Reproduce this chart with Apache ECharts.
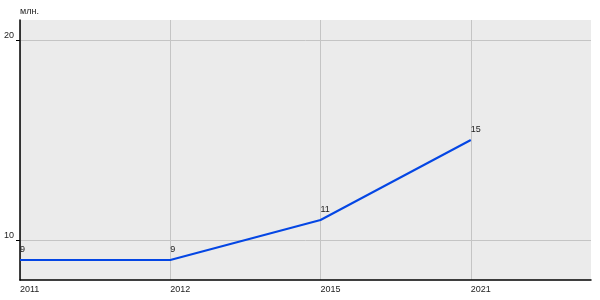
<!DOCTYPE html>
<html><head><meta charset="utf-8">
<script src="https://cdn.jsdelivr.net/npm/echarts@6/dist/echarts.min.js"></script>
<style>html,body{margin:0;padding:0;background:#fff}#c{width:600px;height:300px}</style>
</head><body><div id="c"></div>
<script>
const categories = ['2011', '2012', '2015', '2021'];
const values = [9, 9, 11, 15];
const yTicks = [10, 20];
const unitLabel = 'млн.';

const chart = echarts.init(document.getElementById('c'), null, {renderer: 'canvas'});
const font = 'Liberation Sans, Arial, sans-serif';
const xTicks = categories.map((c, i) => i);
chart.setOption({
  animation: false,
  title: {text: unitLabel, left: 20, top: 7, padding: 0, textStyle: {fontSize: 9, fontWeight: 'normal', color: '#222', fontFamily: font}},
  grid: {left: 20, right: 9, top: 20, bottom: 20, show: true, backgroundColor: '#ebebeb', borderWidth: 0},
  xAxis: {
    type: 'value', min: 0, max: 3.8,
    axisLine: {show: true, lineStyle: {color: '#000', width: 1.5}},
    axisTick: {show: false, customValues: xTicks},
    splitLine: {show: true, lineStyle: {color: '#c4c4c4', width: 1}},
    axisLabel: {
      customValues: xTicks,
      formatter: v => categories[v] !== undefined ? categories[v] : '',
      align: 'left', margin: 5, fontSize: 9, color: '#222', fontFamily: font
    }
  },
  yAxis: {
    type: 'value', min: 8, max: 21,
    axisLine: {show: true, onZero: false, lineStyle: {color: '#000', width: 1.5}},
    axisTick: {show: true, length: 4, customValues: yTicks, lineStyle: {color: '#000'}},
    splitLine: {show: true, lineStyle: {color: '#c4c4c4', width: 1}},
    axisLabel: {customValues: yTicks, margin: 6, fontSize: 9, color: '#222', fontFamily: font, verticalAlign: 'bottom'}
  },
  series: [{
    type: 'line',
    data: values.map((v, i) => [i, v]),
    symbol: 'circle', symbolSize: 0, showSymbol: true,
    lineStyle: {color: '#0446e4', width: 2},
    itemStyle: {color: '#0446e4'},
    label: {show: true, position: 'top', align: 'left', distance: 6, fontSize: 9, color: '#222', fontFamily: font}
  }]
});
</script></body></html>
